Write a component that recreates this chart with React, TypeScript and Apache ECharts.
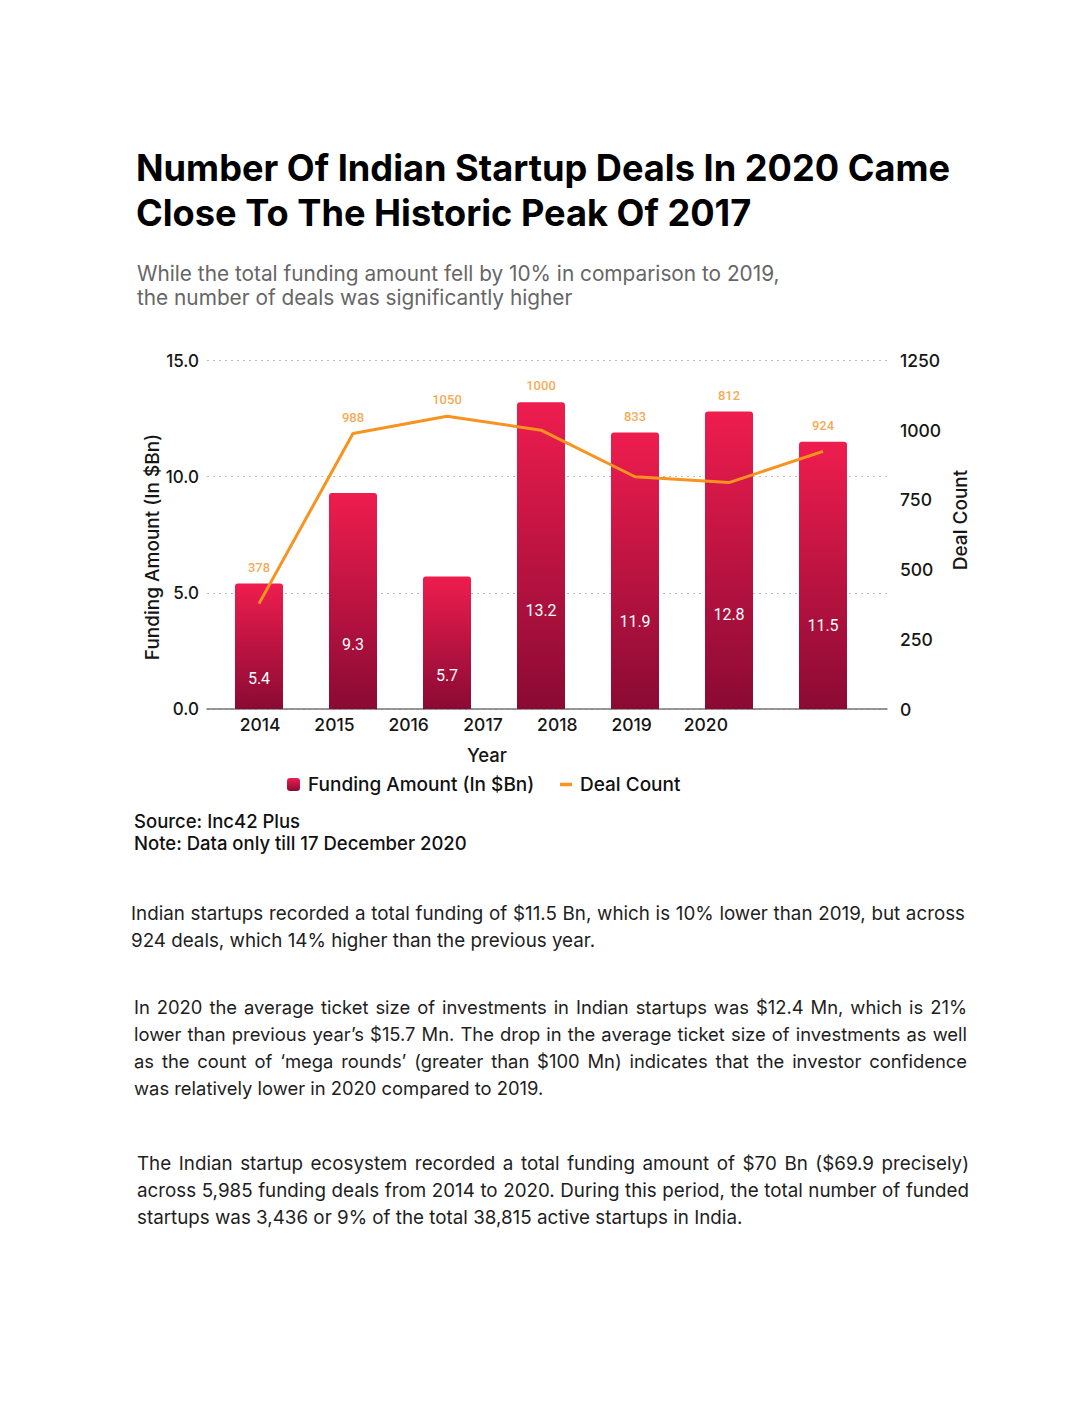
import React, { useEffect, useRef } from "react";
import * as echarts from "echarts";

const years = ["2014", "2015", "2016", "2017", "2018", "2019", "2020"];
const funding = [5.4, 9.3, 5.7, 13.2, 11.9, 12.8, 11.5];
const deals = [378, 988, 1050, 1000, 833, 812, 924];
const fundingMax = 15;
const fundingStep = 5;
const dealMax = 1250;
const dealStep = 250;

const titleLines = [
  "Number Of Indian Startup Deals In 2020 Came",
  "Close To The Historic Peak Of 2017",
];
const subtitleLines = [
  "While the total funding amount fell by 10% in comparison to 2019,",
  "the number of deals was significantly higher",
];
const noteLines = ["Source: Inc42 Plus", "Note: Data only till 17 December 2020"];
const paragraphs = [
  "Indian startups recorded a total funding of $11.5 Bn, which is 10% lower than 2019, but across 924 deals, which 14% higher than the previous year.",
  "In 2020 the average ticket size of investments in Indian startups was $12.4 Mn, which is 21% lower than previous year\u2019s $15.7 Mn. The drop in the average ticket size of investments as well as the count of \u2018mega rounds\u2019 (greater than $100 Mn) indicates that the investor confidence was relatively lower in 2020 compared to 2019.",
  "The Indian startup ecosystem recorded a total funding amount of $70 Bn ($69.9 precisely) across 5,985 funding deals from 2014 to 2020. During this period, the total number of funded startups was 3,436 or 9% of the total 38,815 active startups in India.",
];

const FONT = "Inter, 'Noto Sans', sans-serif";
const NUMFONT = "Roboto, sans-serif";

export default function App() {
  const ref = useRef<HTMLDivElement>(null);

  useEffect(() => {
    if (!ref.current) return;
    const chart = echarts.init(ref.current, undefined, { renderer: "svg" });
    const gridTop = 360.5;
    const gridH = 348.5;
    const labelPos = funding.map((f, i) =>
      Math.max(f, (deals[i] * fundingMax) / dealMax)
    );
    const barItems = funding.map((v) => {
      const h = (v / fundingMax) * gridH;
      const pct = Math.min(0.95, 0.627 + 16 / h);
      return { value: v, label: { position: ["50%", `${(pct * 100).toFixed(1)}%`] } };
    });
    const option: any = {
      animation: false,
      backgroundColor: "#ffffff",
      grid: [
        { left: 207, top: gridTop, width: 680, height: gridH },
        { left: 212, top: gridTop, width: 658, height: gridH },
        { left: 223, top: gridTop, width: 520, height: gridH },
      ],
      xAxis: [
        {
          gridIndex: 0,
          type: "category",
          data: years,
          axisLine: { show: true, lineStyle: { color: "#777777", width: 1.5 } },
          axisTick: { show: false },
          axisLabel: { show: false },
        },
        { gridIndex: 1, type: "category", data: years, show: false },
        {
          gridIndex: 2,
          type: "category",
          data: years,
          axisLine: { show: false },
          axisTick: { show: false },
          axisLabel: {
            fontSize: 17.5,
            color: "#161616",
            margin: 6,
            fontFamily: FONT,
            fontWeight: 500,
          },
        },
      ],
      yAxis: [
        {
          gridIndex: 0,
          type: "value",
          min: 0,
          max: fundingMax,
          interval: fundingStep,
          axisLine: { show: false },
          axisTick: { show: false },
          axisLabel: {
            formatter: (v: number) => v.toFixed(1),
            fontSize: 17,
            color: "#161616",
            margin: 8,
            fontFamily: FONT,
            fontWeight: 500,
          },
          splitLine: {
            show: true,
            lineStyle: { color: "#bdbdbd", type: [2, 4], width: 1.2 },
          },
        },
        {
          gridIndex: 0,
          type: "value",
          position: "right",
          min: 0,
          max: dealMax,
          interval: dealStep,
          axisLine: { show: false },
          axisTick: { show: false },
          splitLine: { show: false },
          axisLabel: {
            formatter: (v: number) => String(v),
            fontSize: 17.5,
            color: "#161616",
            margin: 13,
            fontFamily: FONT,
            fontWeight: 500,
          },
        },
        { gridIndex: 1, type: "value", min: 0, max: fundingMax, show: false },
        { gridIndex: 1, type: "value", min: 0, max: dealMax, show: false },
        { gridIndex: 2, type: "value", min: 0, max: fundingMax, show: false },
      ],
      legend: [
        {
          data: [{ name: "Funding Amount (In $Bn)", icon: "roundRect" }],
          left: 287,
          top: 775,
          padding: 0,
          itemWidth: 13,
          itemHeight: 13,
          itemGap: 22,
          textStyle: {
            fontSize: 19,
            color: "#111111",
            fontFamily: FONT,
            fontWeight: 500,
            padding: [0, 0, 0, 3],
          },
        },
        {
          data: [{ name: "Deal Count", icon: "rect" }],
          left: 560,
          top: 775,
          padding: 0,
          itemWidth: 12,
          itemHeight: 3.5,
          textStyle: {
            fontSize: 19,
            color: "#111111",
            fontFamily: FONT,
            fontWeight: 500,
            padding: [0, 0, 0, 3],
          },
        },
      ],
      series: [
        {
          name: "Funding Amount (In $Bn)",
          type: "bar",
          xAxisIndex: 1,
          yAxisIndex: 2,
          data: barItems,
          barWidth: 48,
          itemStyle: {
            borderRadius: [3, 3, 0, 0],
            color: new echarts.graphic.LinearGradient(0, 0, 0, 1, [
              { offset: 0, color: "#EE1D4E" },
              { offset: 1, color: "#8A0A34" },
            ]),
          },
          label: {
            show: true,
            align: "center",
            verticalAlign: "middle",
            color: "#ffffff",
            fontSize: 16,
            fontFamily: NUMFONT,
            fontWeight: 400,
          },
          z: 2,
        },
        {
          name: "Deal Count",
          type: "line",
          xAxisIndex: 1,
          yAxisIndex: 3,
          data: deals,
          symbol: "none",
          lineStyle: { color: "#F7931E", width: 3 },
          itemStyle: { color: "#F7931E" },
          z: 3,
        },
        {
          type: "scatter",
          xAxisIndex: 1,
          yAxisIndex: 2,
          data: labelPos,
          symbolSize: 2,
          itemStyle: { color: "rgba(0,0,0,0)" },
          silent: true,
          label: {
            show: true,
            position: "top",
            distance: 9,
            formatter: (p: any) => String(deals[p.dataIndex]),
            color: "#F3931F",
            fontSize: 13,
            fontFamily: NUMFONT,
            fontWeight: 500,
          },
          z: 4,
        },
      ],
      graphic: [
        ...titleLines.map((t, i) => ({
          type: "text",
          x: 136,
          y: 168 + i * 45,
          style: {
            text: t,
            fill: "#000000",
            font: `700 36.2px ${FONT}`,
            verticalAlign: "middle",
            align: "left",
          },
        })),
        ...subtitleLines.map((t, i) => ({
          type: "text",
          x: 137,
          y: 273 + i * 24,
          style: {
            text: t,
            fill: "#666666",
            font: `400 20.8px ${FONT}`,
            verticalAlign: "middle",
            align: "left",
          },
        })),
        ...noteLines.map((t, i) => ({
          type: "text",
          x: 134,
          y: 821 + i * 22,
          style: {
            text: t,
            fill: "#111111",
            font: `500 18.5px ${FONT}`,
            verticalAlign: "middle",
            align: "left",
          },
        })),
        {
          type: "text",
          x: 152,
          y: 547,
          rotation: Math.PI / 2,
          style: {
            text: "Funding Amount (In $Bn)",
            fill: "#161616",
            font: `500 19px ${FONT}`,
            align: "center",
            verticalAlign: "middle",
          },
        },
        {
          type: "text",
          x: 960,
          y: 520,
          rotation: Math.PI / 2,
          style: {
            text: "Deal Count",
            fill: "#161616",
            font: `500 19px ${FONT}`,
            align: "center",
            verticalAlign: "middle",
          },
        },
        {
          type: "text",
          x: 487,
          y: 755,
          style: {
            text: "Year",
            fill: "#161616",
            font: `500 18.5px ${FONT}`,
            align: "center",
            verticalAlign: "middle",
          },
        },
      ],
    };
    chart.setOption(option);
    return () => chart.dispose();
  }, []);

  const pStyle = (
    left: number,
    top: number,
    width: number,
    size: number
  ): React.CSSProperties => ({
    position: "absolute",
    left,
    top,
    width,
    margin: 0,
    fontFamily: FONT,
    fontSize: size,
    lineHeight: "27px",
    color: "#1e1e1e",
    textAlign: "justify",
  });

  return (
    <div
      style={{
        position: "absolute",
        left: 0,
        top: 0,
        width: 1081,
        height: 1401,
        background: "#ffffff",
        overflow: "hidden",
      }}
    >
      <div ref={ref} style={{ position: "absolute", left: 0, top: 0, width: 1081, height: 880 }} />
      <p style={pStyle(131, 899.5, 834, 18.8)}>{paragraphs[0]}</p>
      <p style={pStyle(134, 993.5, 833, 18.4)}>{paragraphs[1]}</p>
      <p style={pStyle(137, 1149.5, 832, 18.8)}>{paragraphs[2]}</p>
    </div>
  );
}
